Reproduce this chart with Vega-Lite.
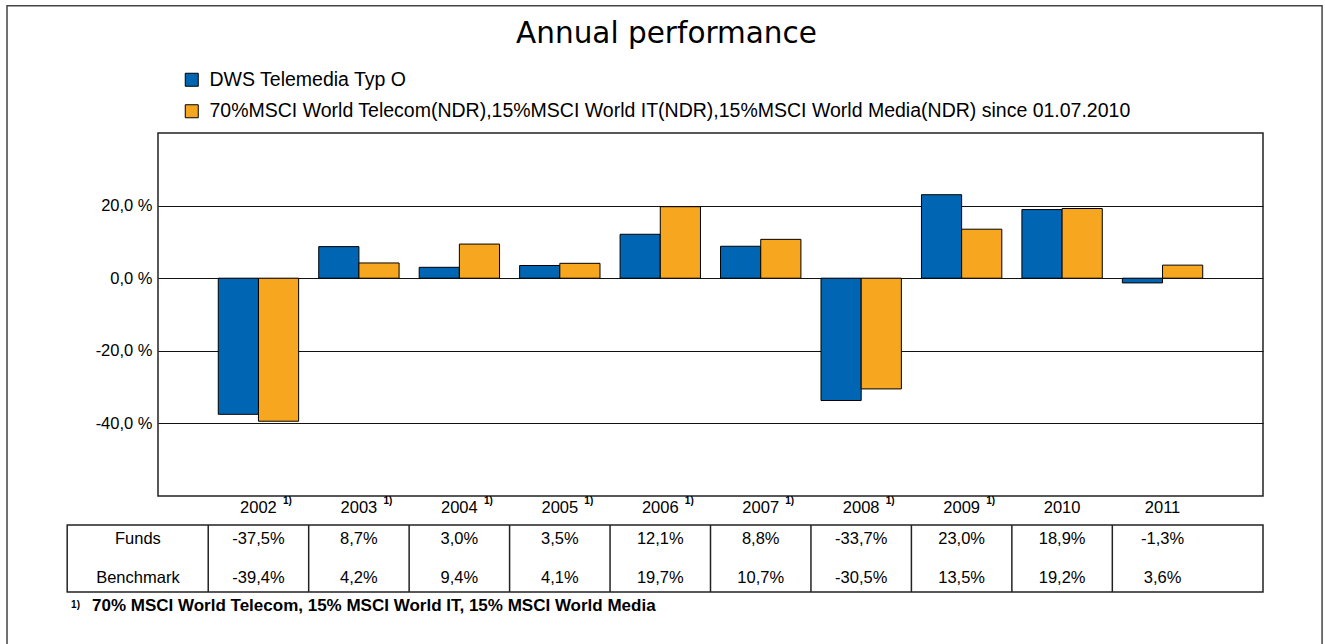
{
  "$schema": "https://vega.github.io/schema/vega-lite/v6.json",
  "width": 1105,
  "height": 363,
  "autosize": {"type": "none"},
  "padding": {"left": 158, "top": 133, "right": 62, "bottom": 148},
  "background": "white",
  "config": {
    "font": "Liberation Sans",
    "locale": {"number": {"decimal": ",", "thousands": ".", "grouping": [3], "currency": ["", " €"], "minus": "-"}},
    "view": {"stroke": "#222222", "strokeWidth": 1.5},
    "text": {"font": "Liberation Sans", "color": "black"}
  },
  "title": {
    "text": "Annual performance",
    "font": "DejaVu Sans",
    "fontSize": 29.5,
    "fontWeight": "normal",
    "color": "black",
    "anchor": "middle",
    "dx": -44,
    "offset": 0,
    "dy": 44
  },
  "datasets": {
    "perf": [
      {"year": "2002", "series": "DWS Telemedia Typ O", "row": "Funds", "value": -37.5, "note": "1)"},
      {"year": "2003", "series": "DWS Telemedia Typ O", "row": "Funds", "value": 8.7, "note": "1)"},
      {"year": "2004", "series": "DWS Telemedia Typ O", "row": "Funds", "value": 3.0, "note": "1)"},
      {"year": "2005", "series": "DWS Telemedia Typ O", "row": "Funds", "value": 3.5, "note": "1)"},
      {"year": "2006", "series": "DWS Telemedia Typ O", "row": "Funds", "value": 12.1, "note": "1)"},
      {"year": "2007", "series": "DWS Telemedia Typ O", "row": "Funds", "value": 8.8, "note": "1)"},
      {"year": "2008", "series": "DWS Telemedia Typ O", "row": "Funds", "value": -33.7, "note": "1)"},
      {"year": "2009", "series": "DWS Telemedia Typ O", "row": "Funds", "value": 23.0, "note": "1)"},
      {"year": "2010", "series": "DWS Telemedia Typ O", "row": "Funds", "value": 18.9, "note": ""},
      {"year": "2011", "series": "DWS Telemedia Typ O", "row": "Funds", "value": -1.3, "note": ""},
      {"year": "2002", "series": "70%MSCI World Telecom(NDR),15%MSCI World IT(NDR),15%MSCI World Media(NDR) since 01.07.2010", "row": "Benchmark", "value": -39.4, "note": "1)"},
      {"year": "2003", "series": "70%MSCI World Telecom(NDR),15%MSCI World IT(NDR),15%MSCI World Media(NDR) since 01.07.2010", "row": "Benchmark", "value": 4.2, "note": "1)"},
      {"year": "2004", "series": "70%MSCI World Telecom(NDR),15%MSCI World IT(NDR),15%MSCI World Media(NDR) since 01.07.2010", "row": "Benchmark", "value": 9.4, "note": "1)"},
      {"year": "2005", "series": "70%MSCI World Telecom(NDR),15%MSCI World IT(NDR),15%MSCI World Media(NDR) since 01.07.2010", "row": "Benchmark", "value": 4.1, "note": "1)"},
      {"year": "2006", "series": "70%MSCI World Telecom(NDR),15%MSCI World IT(NDR),15%MSCI World Media(NDR) since 01.07.2010", "row": "Benchmark", "value": 19.7, "note": "1)"},
      {"year": "2007", "series": "70%MSCI World Telecom(NDR),15%MSCI World IT(NDR),15%MSCI World Media(NDR) since 01.07.2010", "row": "Benchmark", "value": 10.7, "note": "1)"},
      {"year": "2008", "series": "70%MSCI World Telecom(NDR),15%MSCI World IT(NDR),15%MSCI World Media(NDR) since 01.07.2010", "row": "Benchmark", "value": -30.5, "note": "1)"},
      {"year": "2009", "series": "70%MSCI World Telecom(NDR),15%MSCI World IT(NDR),15%MSCI World Media(NDR) since 01.07.2010", "row": "Benchmark", "value": 13.5, "note": "1)"},
      {"year": "2010", "series": "70%MSCI World Telecom(NDR),15%MSCI World IT(NDR),15%MSCI World Media(NDR) since 01.07.2010", "row": "Benchmark", "value": 19.2, "note": ""},
      {"year": "2011", "series": "70%MSCI World Telecom(NDR),15%MSCI World IT(NDR),15%MSCI World Media(NDR) since 01.07.2010", "row": "Benchmark", "value": 3.6, "note": ""}
    ],
    "notes": [
      {"id": "1)", "text": "70% MSCI World Telecom, 15% MSCI World IT, 15% MSCI World Media"}
    ]
  },
  "data": {"name": "perf"},
  "layer": [
    {
      "mark": {"type": "bar", "stroke": "black", "strokeWidth": 1},
      "encoding": {
        "x": {
          "field": "year",
          "type": "nominal",
          "scale": {"paddingInner": 0, "paddingOuter": 0.5},
          "axis": {
            "title": null,
            "labelAngle": 0,
            "labelFontSize": 16.5,
            "labelColor": "black",
            "labelPadding": 3,
            "ticks": false,
            "domain": false
          }
        },
        "xOffset": {
          "field": "series",
          "type": "nominal",
          "sort": ["DWS Telemedia Typ O", "70%MSCI World Telecom(NDR),15%MSCI World IT(NDR),15%MSCI World Media(NDR) since 01.07.2010"],
          "scale": {"paddingInner": 0, "paddingOuter": 0.25}
        },
        "y": {
          "field": "value",
          "type": "quantitative",
          "scale": {"domain": [-60, 40], "nice": false},
          "axis": {
            "title": null,
            "values": [-40, -20, 0, 20],
            "labelExpr": "replace(format(datum.value, '.1f'), '−', '-') + ' %'",
            "labelFontSize": 16.5,
            "labelColor": "black",
            "labelPadding": 6,
            "domain": false,
            "ticks": false,
            "grid": true,
            "gridColor": "#111111",
            "gridWidth": 1
          }
        },
        "color": {
          "field": "series",
          "type": "nominal",
          "scale": {
            "domain": ["DWS Telemedia Typ O", "70%MSCI World Telecom(NDR),15%MSCI World IT(NDR),15%MSCI World Media(NDR) since 01.07.2010"],
            "range": ["#0066b3", "#f7a71f"]
          },
          "legend": {
            "title": null,
            "orient": "none",
            "legendX": 24,
            "legendY": -63,
            "symbolType": "square",
            "symbolSize": 169,
            "symbolStrokeColor": "black",
            "symbolStrokeWidth": 1,
            "labelFontSize": 19.5,
            "labelColor": "black",
            "labelLimit": 1200,
            "labelOffset": 8,
            "rowPadding": 10.5
          }
        }
      }
    },
    {
      "layer": [
        {
          "transform": [
            {"calculate": "replace(replace(format(datum.value, '.1f'), '−', '-'), '.', ',') + '%'", "as": "label"}
          ],
          "mark": {"type": "text", "fontSize": 16.5, "baseline": "middle", "align": "center"},
          "encoding": {
            "x": {"field": "year", "type": "nominal"},
            "y": {
              "field": "row",
              "type": "nominal",
              "scale": {"type": "band", "domain": ["Funds", "Benchmark"], "range": [392, 459], "paddingInner": 0.282, "paddingOuter": 0},
              "axis": null
            },
            "text": {"field": "label"}
          }
        },
        {
          "transform": [{"filter": "datum.year === '2002'"}],
          "mark": {"type": "text", "fontSize": 16.5, "baseline": "middle", "align": "center"},
          "encoding": {
            "x": {"datum": "2002", "type": "nominal", "bandPosition": -0.7},
            "y": {"field": "row", "type": "nominal", "axis": null},
            "text": {"field": "row"}
          }
        },
        {
          "transform": [{"filter": "datum.row === 'Funds' && datum.note !== ''"}],
          "mark": {"type": "text", "fontSize": 10, "fontWeight": "bold", "baseline": "middle", "align": "center", "dx": 29, "dy": -24},
          "encoding": {
            "x": {"field": "year", "type": "nominal"},
            "y": {"datum": "Funds", "type": "nominal", "bandPosition": 0, "axis": null},
            "text": {"field": "note"}
          }
        },
        {
          "transform": [{"filter": "datum.row === 'Funds'"}],
          "mark": {"type": "rule", "color": "#222222", "strokeWidth": 1.5},
          "encoding": {
            "x": {"field": "year", "type": "nominal", "bandPosition": 0},
            "y": {"datum": "Funds", "type": "nominal", "bandPosition": 0, "axis": null},
            "y2": {"datum": "Benchmark", "bandPosition": 1}
          }
        },
        {
          "data": {"name": "notes"},
          "mark": {"type": "rect", "filled": false, "stroke": "#222222", "strokeWidth": 1.5},
          "encoding": {
            "x": {"datum": "2002", "type": "nominal", "bandPosition": -1.404},
            "x2": {"datum": "2011", "bandPosition": 1.5},
            "y": {"datum": "Funds", "type": "nominal", "bandPosition": 0, "axis": null},
            "y2": {"datum": "Benchmark", "bandPosition": 1}
          }
        },
        {
          "data": {"name": "notes"},
          "mark": {"type": "text", "fontSize": 10, "fontWeight": "bold", "baseline": "middle", "align": "center"},
          "encoding": {
            "x": {"datum": "2002", "type": "nominal", "bandPosition": -1.321},
            "y": {"datum": "Benchmark", "type": "nominal", "bandPosition": 1.45, "axis": null},
            "text": {"field": "id"}
          }
        },
        {
          "data": {"name": "notes"},
          "mark": {"type": "text", "fontSize": 17, "fontWeight": "bold", "baseline": "middle", "align": "left"},
          "encoding": {
            "x": {"datum": "2002", "type": "nominal", "bandPosition": -1.157},
            "y": {"datum": "Benchmark", "type": "nominal", "bandPosition": 1.5, "axis": null},
            "text": {"field": "text"}
          }
        },
        {
          "data": {"name": "notes"},
          "mark": {"type": "rect", "filled": false, "stroke": "#444444", "strokeWidth": 1.5},
          "encoding": {
            "x": {"datum": "2002", "type": "nominal", "bandPosition": -2.003},
            "x2": {"datum": "2011", "bandPosition": 2.088},
            "y": {"datum": "Funds", "type": "nominal", "bandPosition": -18.54, "axis": null},
            "y2": {"datum": "Benchmark", "bandPosition": 3.1}
          }
        }
      ]
    }
  ],
  "resolve": {"scale": {"y": "independent"}, "axis": {"y": "independent"}}
}
